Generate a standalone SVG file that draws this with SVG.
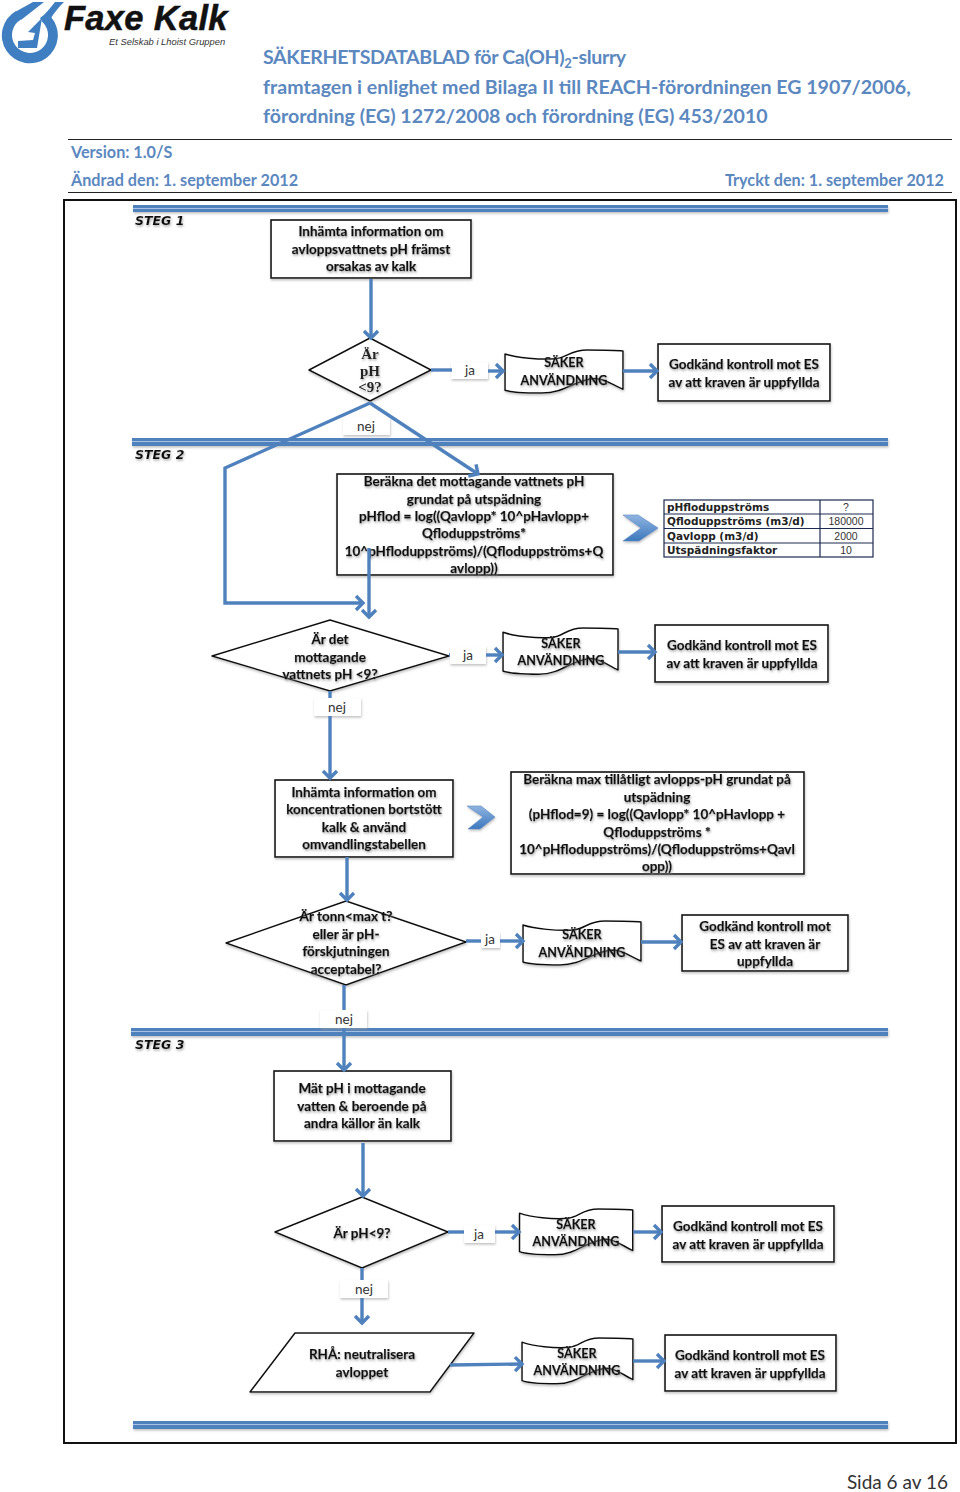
<svg xmlns="http://www.w3.org/2000/svg" width="960" height="1492" viewBox="0 0 960 1492">
<style>
text{font-family:"Lato","Open Sans","Liberation Sans",sans-serif}
.h{font-weight:700;fill:#5b88bf;font-size:19.6px}
.m{font-weight:700;fill:#5b88bf;font-size:16.2px}
.t{font-weight:700;fill:#111;stroke:#111;stroke-width:0.25;font-size:13.5px;text-anchor:middle;filter:url(#ts)}
.dt{font-size:12.6px}
.s{font-family:"Liberation Serif",serif;font-weight:700;fill:#222;font-size:15px;text-anchor:middle;filter:url(#ts)}
.b{fill:#fff;stroke:#111;stroke-width:1.6;filter:url(#bs)}
.d{fill:#fff;stroke:#111;stroke-width:1.5;stroke-linejoin:round;filter:url(#bs)}
.l{fill:#fff;filter:url(#bs)}
.lt{font-weight:400;fill:#333;font-size:13.5px;text-anchor:middle}
.c{fill:none;stroke:#4f81bd;stroke-width:3.4}
.a{marker-end:url(#ar)}
.r1{fill:#4f81bd;filter:url(#bs)}
.r2{stroke:#a9c2e2;stroke-width:1.2}
.st{font-family:"DejaVu Sans",sans-serif;font-weight:700;font-style:italic;font-size:12.5px;fill:#111;filter:url(#ts)}
.tl{font-family:"DejaVu Sans",sans-serif;font-weight:700;font-size:10.5px;fill:#222}
.tv{font-family:"Liberation Sans",sans-serif;font-size:10.5px;fill:#333;text-anchor:middle}
.logo{fill:#3f7fc1}
.doc{vector-effect:non-scaling-stroke}
.chev{fill:url(#chev);stroke:#5b8cc8;stroke-width:0.6;filter:url(#bs)}
</style>
<defs>
<filter id="ts" x="-5%" y="-20%" width="110%" height="150%"><feDropShadow dx="0.8" dy="1.6" stdDeviation="1" flood-color="#888" flood-opacity="0.7"/></filter>
<filter id="bs" x="-5%" y="-40%" width="110%" height="200%"><feDropShadow dx="0.6" dy="1.6" stdDeviation="1.2" flood-color="#999" flood-opacity="0.6"/></filter>
<marker id="ar" markerUnits="userSpaceOnUse" markerWidth="14" markerHeight="20" refX="10" refY="9" orient="auto">
<path d="M3,2 L10,9 L3,16" fill="none" stroke="#4f81bd" stroke-width="3.4"/>
</marker>
<path id="wave" class="doc" d="M0,4 C12,8 35,10 50,9 C62,8 65,0 82,0 C95,0 110,0 118,1 L118,40 C108,36 100,29 90,29 C70,30 60,44 37,44 C22,44 8,44 0,41 Z"/>
<linearGradient id="chev" x1="0" y1="0" x2="0" y2="1"><stop offset="0" stop-color="#8fb4e0"/><stop offset="1" stop-color="#3d78bd"/></linearGradient>
</defs>
<rect width="960" height="1492" fill="#fff"/>

<g id="logo">
<path class="logo" d="M16,11 A28,28 0 1 0 51,17 L43,22.5 A18,18 0 1 1 21,19.4 Z"/>
<path class="logo" d="M15,12 L33,2 L44,2 L21,20 Z"/>
<path class="logo" d="M55,2 H64 C58,8 54,13 51,18 L43,23 L40,18 C46,14 50,8 55,2 Z"/>
<path class="logo" d="M38,22 L42,18 L37,48 L18,48 L18,41 L33,40 L35,33 L28,32 Z"/>
<text x="64" y="30" style="font-family:'Liberation Sans',sans-serif;font-weight:700;font-style:italic;font-size:34.5px;letter-spacing:0.3px;fill:#111;stroke:#111;stroke-width:0.5">Faxe Kalk</text>
<text x="109" y="45" style="font-family:'Liberation Sans',sans-serif;font-style:italic;font-size:9.4px;fill:#333">Et Selskab i Lhoist Gruppen</text>
</g>

<g id="header">
<text class="h" x="263" y="64" letter-spacing="-0.35">SÄKERHETSDATABLAD för Ca(OH)<tspan font-size="13" dy="4">2</tspan><tspan dy="-4">-slurry</tspan></text>
<text class="h" x="263" y="94">framtagen i enlighet med Bilaga II till REACH-förordningen EG 1907/2006,</text>
<text class="h" x="263" y="123">förordning (EG) 1272/2008 och förordning (EG) 453/2010</text>
<line x1="68" y1="139.5" x2="952" y2="139.5" stroke="#222" stroke-width="1.2"/>
<text class="m" x="71" y="158">Version: 1.0/S</text>
<text class="m" x="71" y="186">Ändrad den: 1. september 2012</text>
<text class="m" x="944" y="186" text-anchor="end">Tryckt den: 1. september 2012</text>
<line x1="68" y1="192.5" x2="952" y2="192.5" stroke="#222" stroke-width="1.2"/>
</g>

<rect id="frame" x="64" y="200" width="892" height="1243" fill="none" stroke="#111" stroke-width="2"/>

<g id="steps">
<rect class="r1" x="133" y="205" width="755" height="7"/><line class="r2" x1="133" y1="208.5" x2="888" y2="208.5"/>
<rect class="r1" x="132" y="438" width="756" height="8"/><line class="r2" x1="132" y1="441.5" x2="888" y2="441.5"/>
<rect class="r1" x="131" y="1028" width="757" height="8"/><line class="r2" x1="131" y1="1031.5" x2="888" y2="1031.5"/>
<rect class="r1" x="133" y="1421" width="755" height="8"/><line class="r2" x1="133" y1="1424.5" x2="888" y2="1424.5"/>
<text class="st" x="135" y="225">STEG 1</text>
<text class="st" x="135" y="459">STEG 2</text>
<text class="st" x="135" y="1049">STEG 3</text>
</g>

<g id="n1"><rect class="b" x="271" y="220" width="200" height="58"/>
<text class="t" x="371" y="236">Inhämta information om</text><text class="t" x="371" y="254">avloppsvattnets pH främst</text><text class="t" x="371" y="271">orsakas av kalk</text></g>

<g id="d1"><polygon class="d" points="309,370 370,338 431,370 370,401"/>
<text class="s" x="370" y="359">Är</text><text class="s" x="370" y="376">pH</text><text class="s" x="370" y="392">&lt;9?</text></g>
<g id="ja1"><rect class="l" x="451" y="362" width="37" height="17"/><text class="lt" x="470" y="375">ja</text></g>
<g id="nej1"><rect class="l" x="343" y="417" width="47" height="18"/><text class="lt" x="366" y="431">nej</text></g>
<g id="doc1"><use href="#wave" class="d" transform="translate(505,350) scale(1,0.98)"/>
<text class="t dt" x="564" y="367">SÄKER</text><text class="t dt" x="564" y="385">ANVÄNDNING</text></g>
<g id="ok1"><rect class="b" x="658" y="344" width="172" height="57"/>
<text class="t" x="744" y="369">Godkänd kontroll mot ES</text><text class="t" x="744" y="387">av att kraven är uppfyllda</text></g>

<g id="n2"><rect class="b" x="337" y="474" width="276" height="101"/>
<text class="t" x="474" y="486">Beräkna det mottagande vattnets pH</text><text class="t" x="474" y="504">grundat på utspädning</text><text class="t" x="474" y="521">pHflod = log((Qavlopp* 10^pHavlopp+</text><text class="t" x="474" y="538">Qfloduppströms*</text><text class="t" x="474" y="556">10^pHfloduppströms)/(Qfloduppströms+Q</text><text class="t" x="474" y="573">avlopp))</text></g>

<g id="table"><rect x="664" y="500" width="209" height="57" fill="#fff" stroke="#1c2a50" stroke-width="1.2"/>
<path d="M820,500 V557 M664,514 H873 M664,528.5 H873 M664,543 H873" fill="none" stroke="#1c2a50" stroke-width="1.2"/>
<text class="tl" x="667" y="511">pHfloduppströms</text><text class="tl" x="667" y="525">Qfloduppströms (m3/d)</text><text class="tl" x="667" y="540">Qavlopp (m3/d)</text><text class="tl" x="667" y="554">Utspädningsfaktor</text>
<text class="tv" x="846" y="511">?</text><text class="tv" x="846" y="525">180000</text><text class="tv" x="846" y="540">2000</text><text class="tv" x="846" y="554">10</text></g>

<g id="d2"><polygon class="d" points="212,656 330,620 449,656 330,691"/>
<text class="t" x="330" y="644">Är det</text><text class="t" x="330" y="662">mottagande</text><text class="t" x="330" y="679">vattnets pH &lt;9?</text></g>
<g id="ja2"><rect class="l" x="450" y="646" width="36" height="18"/><text class="lt" x="468" y="660">ja</text></g>
<g id="nej2"><rect class="l" x="314" y="698" width="47" height="18"/><text class="lt" x="337" y="712">nej</text></g>
<g id="doc2"><use href="#wave" class="d" transform="translate(503,628) scale(0.975,1.05)"/>
<text class="t dt" x="561" y="648">SÄKER</text><text class="t dt" x="561" y="665">ANVÄNDNING</text></g>
<g id="ok2"><rect class="b" x="655" y="625" width="173" height="57"/>
<text class="t" x="742" y="650">Godkänd kontroll mot ES</text><text class="t" x="742" y="668">av att kraven är uppfyllda</text></g>

<g id="n3"><rect class="b" x="275" y="780" width="178" height="77"/>
<text class="t" x="364" y="797">Inhämta information om</text><text class="t" x="364" y="814">koncentrationen bortstött</text><text class="t" x="364" y="832">kalk &amp; använd</text><text class="t" x="364" y="849">omvandlingstabellen</text></g>
<g id="n4"><rect class="b" x="511" y="772" width="293" height="102"/>
<text class="t" x="657" y="784">Beräkna max tillåtligt avlopps-pH grundat på</text><text class="t" x="657" y="802">utspädning</text><text class="t" x="657" y="819">(pHflod=9)  = log((Qavlopp* 10^pHavlopp +</text><text class="t" x="657" y="837">Qfloduppströms *</text><text class="t" x="657" y="854">10^pHfloduppströms)/(Qfloduppströms+Qavl</text><text class="t" x="657" y="871">opp))</text></g>

<g id="d3"><polygon class="d" points="226,943 346,901 466,942 346,985"/>
<text class="t" x="346" y="921">Är tonn&lt;max t?</text><text class="t" x="346" y="939">eller är pH-</text><text class="t" x="346" y="956">förskjutningen</text><text class="t" x="346" y="974">acceptabel?</text></g>
<g id="ja3"><rect class="l" x="481" y="932" width="19" height="16"/><text class="lt" x="490" y="944">ja</text></g>
<g id="nej3"><rect class="l" x="320" y="1010" width="47" height="18"/><text class="lt" x="344" y="1024">nej</text></g>
<g id="doc3"><use href="#wave" class="d" transform="translate(523,921)"/>
<text class="t dt" x="582" y="939">SÄKER</text><text class="t dt" x="582" y="957">ANVÄNDNING</text></g>
<g id="ok3"><rect class="b" x="682" y="915" width="166" height="56"/>
<text class="t" x="765" y="931">Godkänd kontroll mot</text><text class="t" x="765" y="949">ES av att kraven är</text><text class="t" x="765" y="966">uppfyllda</text></g>

<g id="n5"><rect class="b" x="274" y="1071" width="177" height="70"/>
<text class="t" x="362" y="1093">Mät pH i mottagande</text><text class="t" x="362" y="1111">vatten &amp; beroende på</text><text class="t" x="362" y="1128">andra källor än kalk</text></g>

<g id="d4"><polygon class="d" points="275,1232 362,1197 448,1232 362,1268"/>
<text class="t" x="362" y="1238">Är pH&lt;9?</text></g>
<g id="ja4"><rect class="l" x="464" y="1225" width="31" height="18"/><text class="lt" x="479" y="1239">ja</text></g>
<g id="nej4"><rect class="l" x="340" y="1280" width="48" height="18"/><text class="lt" x="364" y="1294">nej</text></g>
<g id="doc4"><use href="#wave" class="d" transform="translate(519.5,1209) scale(0.96,1.04)"/>
<text class="t dt" x="576" y="1229">SÄKER</text><text class="t dt" x="576" y="1246">ANVÄNDNING</text></g>
<g id="ok4"><rect class="b" x="662" y="1206" width="172" height="56"/>
<text class="t" x="748" y="1231">Godkänd kontroll mot ES</text><text class="t" x="748" y="1249">av att kraven är uppfyllda</text></g>

<g id="p1"><polygon class="d" points="295,1333 474,1333 430,1392 250,1392"/>
<text class="t" x="362" y="1359">RHÅ: neutralisera</text><text class="t" x="362" y="1377">avloppet</text></g>
<g id="doc5"><use href="#wave" class="d" transform="translate(522,1338) scale(0.94,1.04)"/>
<text class="t dt" x="577" y="1358">SÄKER</text><text class="t dt" x="577" y="1375">ANVÄNDNING</text></g>
<g id="ok5"><rect class="b" x="665" y="1335" width="171" height="56"/>
<text class="t" x="750" y="1360">Godkänd kontroll mot ES</text><text class="t" x="750" y="1378">av att kraven är uppfyllda</text></g>

<g id="connectors">
<path class="c a" d="M371,279 V338"/>
<path class="c" d="M431,370 H452"/><path class="c a" d="M488,371 H503"/>
<path class="c a" d="M623,371 H657"/>
<path class="c a" d="M370,403 L225,468 V603 H363"/>
<path class="c a" d="M370,403 L478,474"/>
<path class="c a" d="M369,548 V617"/>
<path class="c" d="M449,655 H450"/><path class="c a" d="M486,655 H502"/>
<path class="c a" d="M618,652 H655"/>
<path class="c" d="M330,691 V698"/><path class="c a" d="M330,716 V778"/>
<path class="c a" d="M347,857 V900"/>
<path class="c" d="M466,941 H481"/><path class="c a" d="M500,941 H523"/>
<path class="c a" d="M641,942 H681"/>
<path class="c" d="M344,985 V1010"/><path class="c a" d="M344,1028 V1070"/>
<path class="c a" d="M363,1143 V1196"/>
<path class="c" d="M448,1232 H464"/><path class="c a" d="M495,1232 H519"/>
<path class="c a" d="M633,1232 H661"/>
<path class="c" d="M362,1268 V1280"/><path class="c a" d="M362,1298 V1323"/>
<path class="c a" d="M450,1365 L522,1364"/>
<path class="c a" d="M633,1361 H664"/>
<polygon class="chev" points="623,515 638,515 658,528 639,541 623,541 641,528"/>
<polygon class="chev" points="467,806 481,806 495,817 480,829 468,829 483,817"/>
</g>

<text id="page" x="948" y="1489" text-anchor="end" style="font-size:19px;fill:#333">Sida 6 av 16</text>
</svg>
